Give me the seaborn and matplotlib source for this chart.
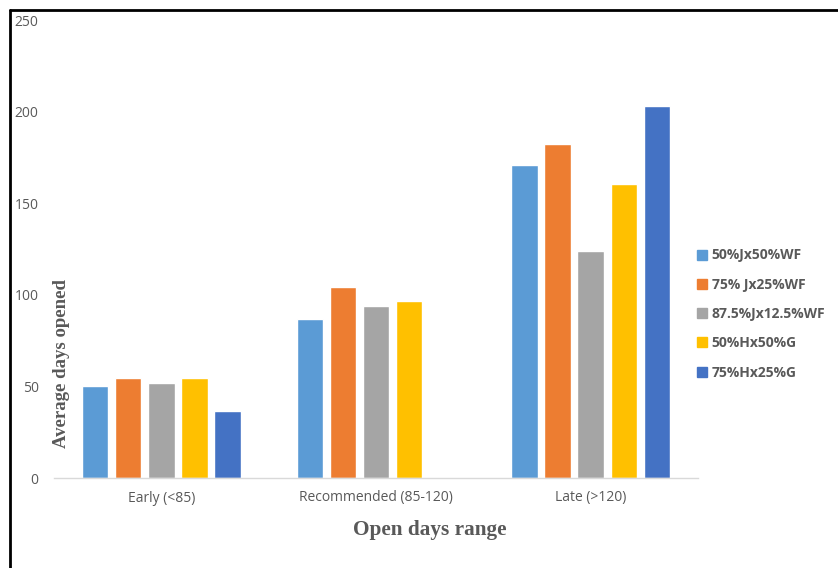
import numpy as np
import pandas as pd
import matplotlib
matplotlib.use("Agg")
import matplotlib.pyplot as plt
from matplotlib.lines import Line2D
import seaborn as sns

categories = ["Early (<85)", "Recommended (85-120)", "Late (>120)"]
series = ["50%Jx50%WF", "75% Jx25%WF", "87.5%Jx12.5%WF", "50%Hx50%G", "75%Hx25%G"]
s1 = [50.2, 86.8, 171.0]
s2 = [54.6, 104.3, 182.3]
s3 = [51.9, 93.9, 124.0]
s4 = [54.6, 96.6, 160.5]
s5 = [36.6, np.nan, 203.1]
colors = ["#5B9BD5", "#ED7D31", "#A5A5A5", "#FFC000", "#4472C4"]
yticks = [0, 50, 100, 150, 200, 250]

rows = []
for name, vals in zip(series, [s1, s2, s3, s4, s5]):
    for c, v in zip(categories, vals):
        rows.append({"cat": c, "series": name, "val": v})
df = pd.DataFrame(rows)

sns.set_theme(style="white")
plt.rcParams["font.family"] = ["Open Sans", "DejaVu Sans"]

fig = plt.figure(figsize=(8.38, 5.68), dpi=100)
ax = fig.add_axes([54/838, 1-478/568, (698-54)/838, (478-20)/568])

sns.barplot(data=df, x="cat", y="val", hue="series", order=categories,
            hue_order=series, palette=colors, width=0.77, gap=0.2,
            ax=ax, legend=False, saturation=1)

ax.set_xlim(-0.5, 2.5)
ax.set_ylim(0, 250)
ax.set_yticks(yticks)
ax.set_yticklabels([str(t) for t in yticks], color="#595959", fontsize=10)
ax.tick_params(axis="x", colors="#595959", labelsize=10, length=0, pad=9)
ax.tick_params(axis="y", length=0, pad=11)
for sp in ["top", "right", "left"]:
    ax.spines[sp].set_visible(False)
ax.spines["bottom"].set_color("#D9D9D9")
ax.spines["bottom"].set_linewidth(1.0)
ax.set_xlabel("")
ax.set_ylabel("")
ax.grid(False)

fig.text(430/838, 1-530/568, "Open days range", ha="center", va="center",
         family="Liberation Serif", fontweight="bold", fontsize=15.3, color="#595959")
fig.text(61/838, 1-364/568, "Average days opened", ha="center", va="center",
         rotation=90, family="Liberation Serif", fontweight="bold", fontsize=13.5,
         color="#595959")

handles = [Line2D([0], [0], marker="s", linestyle="none", markersize=7,
                  markerfacecolor=c, markeredgecolor=c) for c in colors]
fig.legend(handles, series, loc="center left", bbox_to_anchor=(684/838, 1-314/568),
           frameon=False, labelspacing=1.1, handlelength=0.8, handletextpad=0.3,
           prop={"family": ["Open Sans", "DejaVu Sans"], "weight": "bold", "size": 10},
           labelcolor="#595959")

fig.add_artist(Line2D([10/838, 1], [1-10/568, 1-10/568], color="black", lw=2,
                      transform=fig.transFigure))
fig.add_artist(Line2D([10/838, 10/838], [0, 1-10/568], color="black", lw=2,
                      transform=fig.transFigure))

fig.savefig("out.png", dpi=100)
